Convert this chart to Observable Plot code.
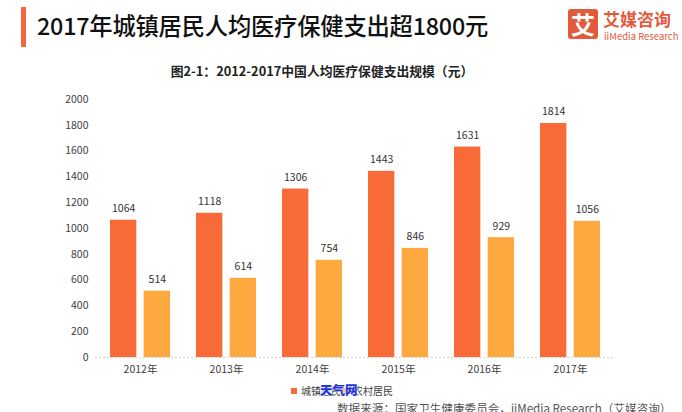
<!DOCTYPE html>
<html>
<head>
<meta charset="utf-8">
<script src="https://cdn.jsdelivr.net/npm/d3@7"></script>
<script src="https://cdn.jsdelivr.net/npm/@observablehq/plot@0.6"></script>
<style>
  html, body { margin: 0; padding: 0; background: #fff; }
  #page { position: relative; width: 682px; height: 412px; overflow: hidden; font-family: "Noto Sans CJK SC", "Noto Sans", sans-serif; }
  #bar { position: absolute; left: 21px; top: 7px; width: 5px; height: 40px; background: #f5673a; }
  #title { position: absolute; left: 37px; top: 8px; font-size: 23.3px; font-weight: 500; color: #111; white-space: nowrap; letter-spacing: -0.2px; }
  #logo-box { position: absolute; left: 568px; top: 9px; width: 30px; height: 30px; background: #e25a3c; border-radius: 3px; color: #fff; font-size: 24px; font-weight: 700; line-height: 30px; text-align: center; }
  #logo-cn { position: absolute; left: 603px; top: 10px; font-size: 17px; font-weight: 700; color: #e25a3c; white-space: nowrap; line-height: 18px; }
  #logo-en { position: absolute; left: 604px; top: 31px; font-size: 9.5px; color: #e25a3c; white-space: nowrap; line-height: 10px; }
  #subtitle { position: absolute; left: 0; width: 644px; top: 61px; text-align: center; font-size: 12.8px; font-weight: 700; color: #222; white-space: nowrap; }
  #chart { position: absolute; left: 0; top: 85px; }
  #legend { position: absolute; left: 291px; top: 384px; font-size: 10px; color: #404040; white-space: nowrap; display: flex; align-items: center; line-height: 14px; }
  .sw { display: inline-block; width: 6px; height: 6px; margin-right: 4px; }
  .item { display: inline-flex; align-items: center; margin-right: 2px; }
  #wm { position: absolute; left: 320px; top: 382px; font-size: 12.5px; font-weight: 900; color: #2636d8; white-space: nowrap; text-shadow: 0 0 2px #fff, 0 0 2px #fff; line-height: 16px; }
  #source { position: absolute; left: 337px; top: 401px; font-size: 11.6px; color: #555; white-space: nowrap; line-height: 14px; }
</style>
</head>
<body>
<div id="page">
  <div id="bar"></div>
  <div id="title">2017年城镇居民人均医疗保健支出超1800元</div>
  <div id="logo-box">艾</div>
  <div id="logo-cn">艾媒咨询</div>
  <div id="logo-en">iiMedia Research</div>
  <div id="subtitle">图2-1：2012-2017中国人均医疗保健支出规模（元）</div>
  <div id="chart"></div>
  <div id="legend"></div>
  <div id="wm">天气网</div>
  <div id="source">数据来源：国家卫生健康委员会，iiMedia Research（艾媒咨询）</div>
</div>
<script>
const years = ["2012年", "2013年", "2014年", "2015年", "2016年", "2017年"];
const series = ["城镇居民", "农村居民"];
const urban = [1064, 1118, 1306, 1443, 1631, 1814];
const rural = [514, 614, 754, 846, 929, 1056];
const yTicks = [0, 200, 400, 600, 800, 1000, 1200, 1400, 1600, 1800, 2000];
const colors = ["#f86a38", "#fea93f"];

const urbanData = years.map((y, i) => ({year: y, type: series[0], value: urban[i]}));
const ruralData = years.map((y, i) => ({year: y, type: series[1], value: rural[i]}));

// band geometry (styles): bar width and gap inside each year band
const W = 682, mL = 95, mR = 67, pIn = 0.3, pOut = 0.15;
const step = (W - mL - mR) / (years.length - pIn + 2 * pOut);
const band = step * (1 - pIn);
const barW = 27;
const inset = band - barW;
const shift = (band - barW) / 2;

const chart = Plot.plot({
  width: W,
  height: 300,
  marginLeft: mL,
  marginRight: mR,
  marginTop: 14,
  marginBottom: 28,
  style: {fontFamily: '"Noto Sans CJK SC", "Noto Sans", sans-serif', fontSize: "10.5px", color: "#404040", background: "transparent"},
  x: {domain: years, paddingInner: pIn, paddingOuter: pOut, label: null, tickSize: 0, tickPadding: 8},
  y: {domain: [0, 2000], ticks: yTicks, tickFormat: d => String(d), tickSize: 0, tickPadding: 7, label: null},
  color: {domain: series, range: colors},
  marks: [
    Plot.ruleY([0], {stroke: "#d4d4d4", strokeDasharray: "2,2"}),
    Plot.barY(urbanData, {x: "year", y: "value", fill: "type", insetRight: inset}),
    Plot.barY(ruralData, {x: "year", y: "value", fill: "type", insetLeft: inset}),
    Plot.text(urbanData, {x: "year", y: "value", text: d => String(d.value), dx: -shift, dy: -8, lineAnchor: "bottom", fill: "#333", fontSize: 10.5}),
    Plot.text(ruralData, {x: "year", y: "value", text: d => String(d.value), dx: shift, dy: -8, lineAnchor: "bottom", fill: "#333", fontSize: 10.5})
  ]
});
document.getElementById("chart").appendChild(chart);

const legend = document.getElementById("legend");
series.forEach((s, i) => {
  const item = document.createElement("span");
  item.className = "item";
  const sw = document.createElement("span");
  sw.className = "sw";
  sw.style.background = colors[i];
  item.appendChild(sw);
  item.appendChild(document.createTextNode(s));
  legend.appendChild(item);
});
</script>
</body>
</html>
